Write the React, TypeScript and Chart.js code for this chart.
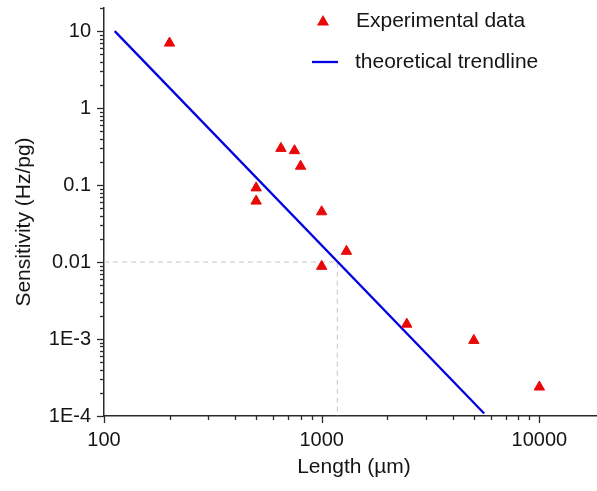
import React, { useEffect, useRef } from 'react';
import { Chart, registerables } from 'chart.js';

Chart.register(...registerables);

// ---- data ----
const expLength = [200, 500, 500, 650, 750, 800, 1000, 1300, 1000, 2460, 5000, 10000];
const expSensitivity = [7.0, 0.092, 0.062, 0.3, 0.28, 0.176, 0.045, 0.0138, 0.0088, 0.00156, 0.00096, 0.000238];
const trendLength = [112, 5580];
const trendSensitivity = [10, 0.000108];
const guideLength = [100, 1180, 1180];
const guideSensitivity = [0.01, 0.01, 0.0001];
const xTickValues = [100, 1000, 10000];
const xTickLabels = ['100', '1000', '10000'];
const yTickValues = [0.0001, 0.001, 0.01, 0.1, 1, 10];
const yTickLabels = ['1E-4', '1E-3', '0.01', '0.1', '1', '10'];
const legendLabels = ['Experimental data', 'theoretical trendline'];
const xTitle = 'Length (µm)';
const yTitle = 'Sensitivity (Hz/pg)';

const FONT = '"Liberation Sans", Arial, sans-serif';
const RED = 'rgb(232,8,8)';
const BLUE = 'rgb(0,0,225)';
const AXIS = '#2a2a2a';
const TEXT = '#151515';

function labelFor(values: number[], labels: string[], v: number) {
  for (let i = 0; i < values.length; i++) {
    if (Math.abs(Math.log10(values[i]) - Math.log10(v)) < 1e-6) return labels[i];
  }
  return '';
}

function eachLogTick(min: number, max: number, fn: (v: number, major: boolean) => void) {
  const e0 = Math.floor(Math.log10(min)) - 1;
  const e1 = Math.ceil(Math.log10(max)) + 1;
  for (let e = e0; e <= e1; e++) {
    for (let m = 1; m <= 9; m++) {
      const v = m * Math.pow(10, e);
      if (v >= min * 0.9999 && v <= max * 1.0001) fn(v, m === 1);
    }
  }
}

const decorPlugin = {
  id: 'decor',
  afterDraw(chart: any) {
    const ctx = chart.ctx as CanvasRenderingContext2D;
    const { left, bottom } = chart.chartArea;
    const xs = chart.scales.x;
    const ys = chart.scales.y;
    ctx.save();
    ctx.strokeStyle = AXIS;
    ctx.lineWidth = 1.3;
    eachLogTick(ys.min, ys.max, (v, major) => {
      const p = Math.round(ys.getPixelForValue(v)) + 0.5;
      const len = major ? 7 : 4;
      ctx.beginPath();
      ctx.moveTo(left, p);
      ctx.lineTo(left - len, p);
      ctx.stroke();
    });
    eachLogTick(xs.min, xs.max, (v, major) => {
      const p = Math.round(xs.getPixelForValue(v)) + 0.5;
      const len = major ? 7 : 4;
      ctx.beginPath();
      ctx.moveTo(p, bottom);
      ctx.lineTo(p, bottom + len);
      ctx.stroke();
    });

    // axis titles
    ctx.fillStyle = TEXT;
    ctx.font = '21px ' + FONT;
    ctx.textAlign = 'center';
    ctx.textBaseline = 'middle';
    ctx.fillText(xTitle, 354, 467);
    ctx.save();
    ctx.translate(24, 222);
    ctx.rotate(-Math.PI / 2);
    ctx.fillText(yTitle, 0, 0);
    ctx.restore();

    // legend
    const tx = 323, ty = 22, r = 7;
    ctx.fillStyle = RED;
    ctx.beginPath();
    ctx.moveTo(tx, ty - r);
    ctx.lineTo(tx + r * 0.866, ty + r / 2);
    ctx.lineTo(tx - r * 0.866, ty + r / 2);
    ctx.closePath();
    ctx.fill();
    ctx.strokeStyle = BLUE;
    ctx.lineWidth = 2.3;
    ctx.beginPath();
    ctx.moveTo(312, 62);
    ctx.lineTo(338, 62);
    ctx.stroke();
    ctx.fillStyle = TEXT;
    ctx.textAlign = 'left';
    ctx.fillText(legendLabels[0], 356, 21);
    ctx.fillText(legendLabels[1], 355, 62);
    ctx.restore();
  },
};

export default function App() {
  const ref = useRef<HTMLCanvasElement | null>(null);

  useEffect(() => {
    if (!ref.current) return;
    const chart = new Chart(ref.current, {
      type: 'scatter',
      data: {
        datasets: [
          {
            label: legendLabels[0],
            data: expLength.map((x, i) => ({ x, y: expSensitivity[i] })),
            pointStyle: 'triangle',
            pointRadius: 6,
            pointBackgroundColor: RED,
            pointBorderColor: RED,
            pointBorderWidth: 1,
            showLine: false,
          },
          {
            label: legendLabels[1],
            data: trendLength.map((x, i) => ({ x, y: trendSensitivity[i] })),
            showLine: true,
            borderColor: BLUE,
            borderWidth: 2.3,
            pointRadius: 0,
          },
          {
            label: 'guide',
            data: guideLength.map((x, i) => ({ x, y: guideSensitivity[i] })),
            showLine: true,
            borderColor: '#c4c4c4',
            borderWidth: 1,
            borderDash: [5, 4],
            pointRadius: 0,
          },
        ],
      },
      options: {
        responsive: false,
        animation: false,
        devicePixelRatio: 1,
        layout: { autoPadding: false, padding: { left: 0, right: 0, top: 8, bottom: 0 } },
        plugins: { legend: { display: false }, tooltip: { enabled: false } },
        scales: {
          x: {
            type: 'logarithmic',
            min: 100,
            max: 18400,
            grid: { display: false, drawTicks: false },
            border: { display: true, color: AXIS, width: 1.5 },
            afterBuildTicks: (s: any) => {
              s.ticks = xTickValues.map((v) => ({ value: v, major: true }));
            },
            afterFit: (s: any) => {
              s.height = 75;
              s.paddingLeft = 0;
              s.paddingRight = 0;
            },
            ticks: {
              autoSkip: false,
              maxRotation: 0,
              minRotation: 0,
              padding: 12,
              color: TEXT,
              font: { family: FONT, size: 20 },
              callback: (v: any) => labelFor(xTickValues, xTickLabels, Number(v)),
            },
          },
          y: {
            type: 'logarithmic',
            min: 0.0001,
            max: 20,
            grid: { display: false, drawTicks: false },
            border: { display: true, color: AXIS, width: 1.5 },
            afterBuildTicks: (s: any) => {
              s.ticks = yTickValues.map((v) => ({ value: v, major: true }));
            },
            afterFit: (s: any) => {
              s.width = 104;
              s.paddingTop = 0;
              s.paddingBottom = 0;
            },
            ticks: {
              autoSkip: false,
              padding: 13,
              color: TEXT,
              font: { family: FONT, size: 20 },
              callback: (v: any) => labelFor(yTickValues, yTickLabels, Number(v)),
            },
          },
        },
      },
      plugins: [decorPlugin],
    } as any);
    return () => chart.destroy();
  }, []);

  return (
    <div style={{ position: 'fixed', left: 0, top: 0, width: 597, height: 491, background: '#fff' }}>
      <canvas ref={ref} width={597} height={491} style={{ display: 'block' }} />
    </div>
  );
}
